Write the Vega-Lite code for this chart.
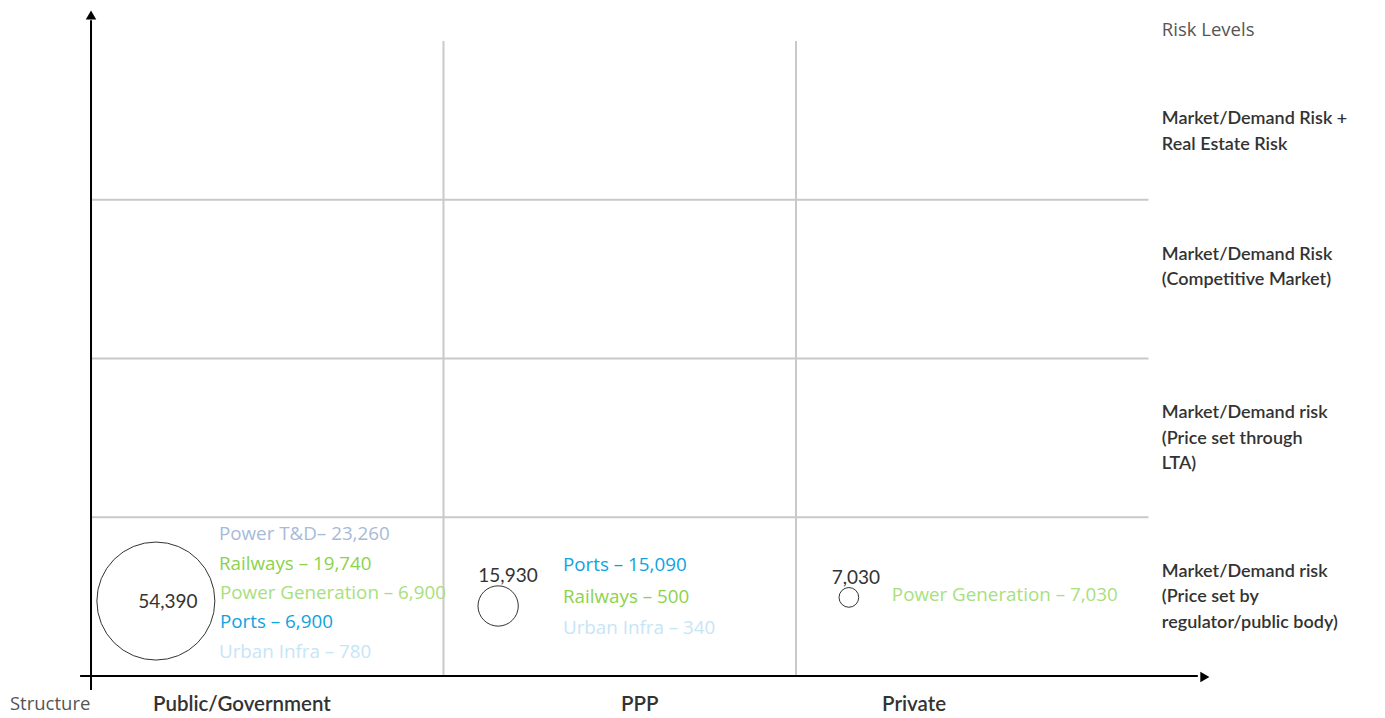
{
  "$schema": "https://vega.github.io/schema/vega-lite/v6.json",
  "width": 1385,
  "height": 718,
  "autosize": "none",
  "padding": 0,
  "background": "white",
  "config": {"view": {"stroke": null}, "text": {"font": "Lato"}},
  "datasets": {
    "grid": [
      {"x": 1, "y": 0, "x2": 1, "y2": 4},
      {"x": 2, "y": 0, "x2": 2, "y2": 4},
      {"x": 0, "y": 1, "x2": 3, "y2": 1},
      {"x": 0, "y": 2, "x2": 3, "y2": 2},
      {"x": 0, "y": 3, "x2": 3, "y2": 3}
    ],
    "axes": [
      {"x": 0, "y": -0.088, "x2": 0, "y2": 4.13},
      {"x": -0.031, "y": 0, "x2": 3.14, "y2": 0}
    ],
    "bubbles": [
      {"structure": "Public/Government", "x": 0.184, "y": 0.472, "value": 54390, "label": "54,390", "lx": 0.218, "ly": 0.466},
      {"structure": "PPP", "x": 1.155, "y": 0.441, "value": 15930, "label": "15,930", "lx": 1.183, "ly": 0.630},
      {"structure": "Private", "x": 2.150, "y": 0.495, "value": 7030, "label": "7,030", "lx": 2.170, "ly": 0.617}
    ],
    "series": [
      {"structure": "Public/Government", "series": "Power T&D", "text": "Power T&D– 23,260", "x": 0.363, "y": 0.894},
      {"structure": "Public/Government", "series": "Railways", "text": "Railways – 19,740", "x": 0.363, "y": 0.706},
      {"structure": "Public/Government", "series": "Power Generation", "text": "Power Generation – 6,900", "x": 0.366, "y": 0.523},
      {"structure": "Public/Government", "series": "Ports", "text": "Ports – 6,900", "x": 0.366, "y": 0.340},
      {"structure": "Public/Government", "series": "Urban Infra", "text": "Urban Infra – 780", "x": 0.363, "y": 0.151},
      {"structure": "PPP", "series": "Ports", "text": "Ports – 15,090", "x": 1.339, "y": 0.699},
      {"structure": "PPP", "series": "Railways", "text": "Railways – 500", "x": 1.339, "y": 0.498},
      {"structure": "PPP", "series": "Urban Infra", "text": "Urban Infra – 340", "x": 1.339, "y": 0.302},
      {"structure": "Private", "series": "Power Generation", "text": "Power Generation – 7,030", "x": 2.272, "y": 0.510}
    ],
    "risk": [
      {"text": "Market/Demand Risk +\nReal Estate Risk", "x": 3.038, "y": 3.565},
      {"text": "Market/Demand Risk\n(Competitive Market)", "x": 3.038, "y": 2.709},
      {"text": "Market/Demand risk\n(Price set through\nLTA)", "x": 3.038, "y": 1.713},
      {"text": "Market/Demand risk\n(Price set by\nregulator/public body)", "x": 3.038, "y": 0.712}
    ],
    "structures": [
      {"text": "Public/Government", "x": 0.428, "y": -0.183},
      {"text": "PPP", "x": 1.557, "y": -0.183},
      {"text": "Private", "x": 2.335, "y": -0.183}
    ],
    "titles": [
      {"text": "Risk Levels", "x": 3.038, "y": 4.069},
      {"text": "Structure", "x": -0.230, "y": -0.175}
    ]
  },
  "encoding": {
    "x": {"field": "x", "type": "quantitative", "axis": null, "scale": {"domain": [-0.2582, 3.671], "nice": false, "zero": false}},
    "y": {"field": "y", "type": "quantitative", "axis": null, "scale": {"domain": [-0.2646, 4.258], "nice": false, "zero": false}}
  },
  "layer": [
    {
      "data": {"name": "grid"},
      "mark": {"type": "rule", "color": "#c9c9c9", "strokeWidth": 2},
      "encoding": {"x2": {"field": "x2"}, "y2": {"field": "y2"}}
    },
    {
      "data": {"name": "axes"},
      "mark": {"type": "rule", "color": "#000000", "strokeWidth": 2},
      "encoding": {"x2": {"field": "x2"}, "y2": {"field": "y2"}}
    },
    {
      "data": {"values": [{"x": 0, "y": 4.164}]},
      "mark": {"type": "point", "shape": "triangle-up", "filled": true, "color": "#000000", "size": 110, "opacity": 1}
    },
    {
      "data": {"values": [{"x": 3.160, "y": -0.006}]},
      "mark": {"type": "point", "shape": "triangle-right", "filled": true, "color": "#000000", "size": 110, "opacity": 1}
    },
    {
      "data": {"name": "bubbles"},
      "mark": {"type": "point", "shape": "circle", "filled": false, "stroke": "#333333", "strokeWidth": 1, "opacity": 1},
      "encoding": {
        "size": {"field": "value", "type": "quantitative", "legend": null, "scale": {"type": "pow", "exponent": 1.75, "domain": [0, 54390], "range": [0, 13924]}}
      }
    },
    {
      "data": {"name": "bubbles"},
      "mark": {"type": "text", "fontSize": 19, "color": "#333333", "align": "center", "baseline": "middle"},
      "encoding": {
        "x": {"field": "lx", "type": "quantitative"},
        "y": {"field": "ly", "type": "quantitative"},
        "text": {"field": "label"}
      }
    },
    {
      "data": {"name": "series"},
      "mark": {"type": "text", "font": "Open Sans", "fontSize": 18.8, "align": "left", "baseline": "middle"},
      "encoding": {
        "text": {"field": "text"},
        "color": {"field": "series", "type": "nominal", "legend": null, "scale": {"domain": ["Power T&D", "Railways", "Power Generation", "Ports", "Urban Infra"], "range": ["#a7bad8", "#8cd24b", "#a8e07c", "#0ea3e0", "#c6e5f7"]}}
      }
    },
    {
      "data": {"name": "risk"},
      "mark": {"type": "text", "fontSize": 18, "fontWeight": 600, "color": "#333333", "align": "left", "baseline": "top", "lineBreak": "\n", "lineHeight": 25.5},
      "encoding": {"text": {"field": "text"}}
    },
    {
      "data": {"name": "structures"},
      "mark": {"type": "text", "fontSize": 20.5, "fontWeight": 600, "color": "#333333", "align": "center", "baseline": "middle"},
      "encoding": {"text": {"field": "text"}}
    },
    {
      "data": {"name": "titles"},
      "mark": {"type": "text", "font": "Open Sans", "fontSize": 18.5, "color": "#555555", "align": "left", "baseline": "middle"},
      "encoding": {"text": {"field": "text"}}
    }
  ]
}
